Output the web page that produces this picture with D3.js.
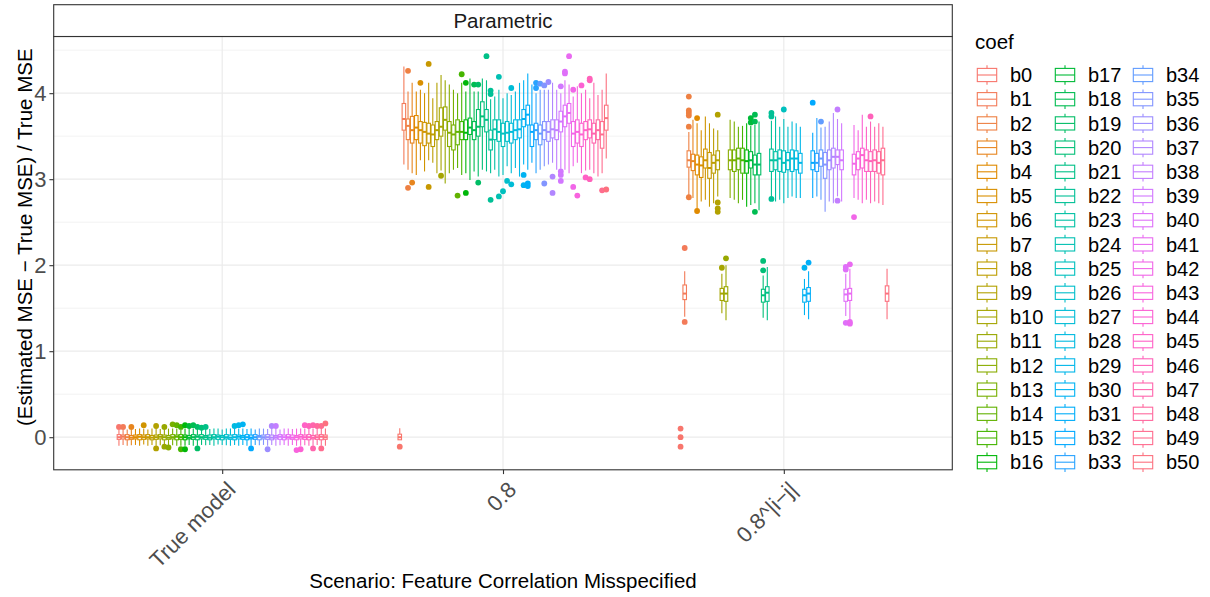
<!DOCTYPE html>
<html><head><meta charset="utf-8">
<script src="https://cdn.jsdelivr.net/npm/d3@7"></script>
<style>body{margin:0;background:#fff} svg{display:block;font-family:"Liberation Sans",Arial,Helvetica,sans-serif}</style>
</head><body><svg id="c" width="1210" height="597"></svg>
<script>
// ---------------- DATA ----------------
const coefs = ["b0","b1","b2","b3","b4","b5","b6","b7","b8","b9","b10",
  "b11","b12","b13","b14","b15","b16","b17","b18","b19","b20",
  "b21","b22","b23","b24","b25","b26","b27","b28","b29","b30",
  "b31","b32","b33","b34","b35","b36","b37","b38","b39","b40",
  "b41","b42","b43","b44","b45","b46","b47","b48","b49","b50"];
const scenarios = ["True model","0.8","0.8^|i\u2212j|"];
const yTicks = [0,1,2,3,4];
const yMinorTicks = [0.5,1.5,2.5,3.5,4.5];

// Scenario "True model"
const tmLo  = [-0.10,-0.09,-0.10,-0.095,-0.09,-0.10,-0.085,-0.10,-0.09,-0.10,-0.095,
  -0.09,-0.10,-0.095,-0.10,-0.10,-0.10,-0.09,-0.10,-0.10,-0.09,
  -0.095,-0.09,-0.10,-0.085,-0.09,-0.095,-0.10,-0.09,-0.10,-0.09,
  -0.10,-0.10,-0.09,-0.095,-0.09,-0.10,-0.09,-0.10,-0.095,-0.09,
  -0.10,-0.09,-0.10,-0.10,-0.095,-0.10,-0.10,-0.09,-0.10,-0.10];
const tmQ1  = [-0.025,-0.02,-0.03,-0.025,-0.02,-0.03,-0.025,-0.02,-0.03,-0.025,-0.02,
  -0.03,-0.025,-0.02,-0.03,-0.025,-0.03,-0.02,-0.025,-0.03,-0.02,
  -0.025,-0.03,-0.02,-0.025,-0.03,-0.02,-0.025,-0.03,-0.02,-0.025,
  -0.03,-0.02,-0.025,-0.03,-0.02,-0.025,-0.03,-0.02,-0.025,-0.03,
  -0.02,-0.025,-0.03,-0.02,-0.025,-0.03,-0.02,-0.025,-0.03,-0.025];
const tmMed = [0.0,0.005,0.0,-0.005,0.0,0.005,0.0,0.0,-0.005,0.0,0.005,
  0.0,-0.005,0.0,0.005,0.0,0.0,-0.005,0.0,0.005,0.0,
  0.0,-0.005,0.0,0.005,0.0,0.0,-0.005,0.0,0.005,0.0,
  0.0,-0.005,0.0,0.005,0.0,0.0,-0.005,0.0,0.005,0.0,
  0.0,-0.005,0.0,0.005,0.0,0.0,-0.005,0.0,0.005,0.0];
const tmQ3  = [0.03,0.025,0.03,0.02,0.025,0.03,0.025,0.03,0.02,0.025,0.03,
  0.025,0.02,0.03,0.025,0.03,0.025,0.02,0.03,0.025,0.03,
  0.02,0.025,0.03,0.025,0.02,0.03,0.025,0.03,0.025,0.02,
  0.03,0.025,0.03,0.02,0.025,0.03,0.025,0.02,0.03,0.025,
  0.03,0.025,0.02,0.03,0.025,0.03,0.02,0.025,0.03,0.025];
const tmHi  = [0.10,0.10,0.09,0.10,0.095,0.10,0.10,0.09,0.10,0.10,0.095,
  0.10,0.10,0.10,0.10,0.09,0.10,0.10,0.10,0.10,0.09,
  0.10,0.095,0.10,0.10,0.09,0.10,0.10,0.10,0.10,0.10,
  0.095,0.10,0.09,0.10,0.10,0.095,0.10,0.10,0.09,0.10,
  0.10,0.095,0.10,0.10,0.10,0.10,0.10,0.10,0.10,0.10];
const tmOut = [["b0",0.12],["b1",0.12],["b3",0.12],["b6",0.14],["b9",0.13],["b9",-0.13],
  ["b11",0.12],["b11",-0.11],["b12",-0.12],["b13",0.15],["b14",0.14],["b15",0.12],["b15",-0.14],
  ["b16",0.14],["b16",-0.14],["b17",0.13],["b18",0.14],["b19",0.12],["b19",-0.13],["b20",0.11],
  ["b21",0.12],["b28",0.13],["b29",0.14],["b30",0.15],["b32",-0.13],["b36",-0.14],["b37",0.13],
  ["b38",0.13],["b43",-0.15],["b44",-0.14],["b45",0.14],["b46",0.13],["b47",0.14],["b47",-0.13],
  ["b48",0.13],["b49",0.13],["b49",-0.13],["b50",0.16]];

// Scenario "0.8"
const s2Lo  = [-0.03,3.17,3.11,3.07,3.05,3.22,3.09,3.22,3.19,3.07,3.10,
  2.95,3.07,3.11,3.13,3.05,3.07,2.99,3.09,3.03,3.11,
  3.09,3.07,3.11,3.03,3.05,3.15,3.07,3.13,3.03,3.17,
  3.11,3.19,3.07,3.11,3.15,3.17,3.19,3.11,3.12,3.11,
  3.07,3.15,3.19,3.07,3.10,3.11,3.07,3.03,3.07,3.24];
const s2Q1  = [-0.03,3.57,3.46,3.42,3.46,3.42,3.39,3.42,3.38,3.46,3.50,
  3.57,3.38,3.34,3.40,3.46,3.46,3.52,3.46,3.50,3.61,
  3.55,3.34,3.46,3.44,3.38,3.44,3.42,3.46,3.48,3.61,
  3.63,3.38,3.46,3.40,3.46,3.44,3.48,3.46,3.55,3.61,
  3.65,3.38,3.42,3.38,3.46,3.48,3.42,3.46,3.36,3.57];
const s2Med = [0.00,3.70,3.62,3.57,3.60,3.57,3.55,3.53,3.52,3.57,3.61,
  3.69,3.54,3.52,3.55,3.55,3.54,3.60,3.57,3.61,3.73,
  3.69,3.46,3.58,3.55,3.53,3.54,3.55,3.57,3.58,3.70,
  3.75,3.55,3.57,3.53,3.57,3.55,3.58,3.57,3.67,3.73,
  3.77,3.53,3.55,3.52,3.57,3.58,3.53,3.57,3.52,3.71];
const s2Q3  = [0.035,3.88,3.70,3.73,3.74,3.67,3.66,3.65,3.63,3.67,3.83,
  3.84,3.67,3.63,3.69,3.67,3.69,3.71,3.67,3.81,3.90,
  3.81,3.57,3.69,3.69,3.65,3.67,3.65,3.69,3.69,3.81,
  3.86,3.63,3.65,3.63,3.67,3.67,3.69,3.69,3.79,3.86,
  3.88,3.67,3.69,3.65,3.67,3.69,3.65,3.69,3.67,3.86];
const s2Hi  = [0.105,4.31,4.02,4.12,4.02,4.04,4.00,4.12,3.94,4.12,4.21,
  4.15,4.10,4.04,4.00,4.12,4.02,4.17,4.02,4.02,4.17,
  4.15,3.93,3.96,4.04,3.94,4.00,3.98,4.02,4.12,4.15,
  4.23,4.10,4.00,4.04,4.04,4.04,4.12,4.04,4.00,4.15,
  4.10,3.96,4.08,4.00,4.04,3.94,4.12,3.98,4.04,4.23];
const s2Out = [["b0",-0.11],["b2",4.26],["b2",2.90],["b3",2.96],["b5",4.12],["b7",4.34],["b7",2.91],
  ["b10",3.04],["b14",2.81],["b15",4.22],["b16",4.12],["b16",2.84],["b18",4.10],["b19",4.10],["b19",2.96],
  ["b21",4.43],["b22",4.03],["b22",3.99],["b22",2.76],["b24",4.19],["b24",2.80],["b25",2.86],["b26",2.98],
  ["b27",4.06],["b27",2.94],["b30",3.05],["b30",2.93],["b31",2.92],["b31",2.95],["b33",4.12],["b33",4.06],
  ["b34",4.11],["b35",4.09],["b35",2.95],["b36",4.13],["b37",3.03],["b37",2.84],["b39",4.08],["b39",3.09],
  ["b39",3.05],["b39",2.98],["b40",4.25],["b40",4.23],["b41",4.43],["b42",4.04],["b42",2.91],["b43",2.81],
  ["b44",4.09],["b45",3.02],["b46",4.17],["b46",4.15],["b46",3.00],["b49",2.87],["b50",2.88]];

// Scenario "0.8^|i-j|"
const s3Lo  = [0,1.40,2.80,2.78,2.66,2.74,2.76,2.68,2.72,2.80,1.44,
  1.36,2.78,2.76,2.72,2.76,2.68,2.70,2.72,2.64,1.39,
  1.36,2.80,2.74,2.76,2.72,2.78,2.80,2.78,2.78,1.42,
  1.37,2.78,2.80,2.76,2.62,2.74,2.72,2.80,2.74,1.41,
  1.36,2.78,2.76,2.72,2.76,2.72,2.74,2.72,2.70,1.37];
const s3Q1  = [0,1.60,3.14,3.10,3.05,3.02,3.13,3.01,3.07,3.11,1.59,
  1.58,3.11,3.09,3.11,3.07,3.07,3.13,3.05,3.05,1.57,
  1.58,3.09,3.11,3.09,3.08,3.11,3.09,3.11,3.07,1.57,
  1.58,3.11,3.09,3.15,3.01,3.11,3.13,3.17,3.11,1.58,
  1.59,3.05,3.11,3.13,3.09,3.09,3.09,3.07,3.05,1.58];
const s3Med = [0,1.67,3.22,3.21,3.17,3.16,3.22,3.13,3.19,3.22,1.67,
  1.67,3.22,3.22,3.24,3.22,3.21,3.22,3.17,3.17,1.65,
  1.68,3.22,3.22,3.24,3.19,3.22,3.24,3.24,3.19,1.65,
  1.67,3.19,3.19,3.24,3.17,3.22,3.26,3.26,3.22,1.66,
  1.67,3.18,3.24,3.28,3.22,3.21,3.22,3.19,3.22,1.67];
const s3Q3  = [0,1.77,3.33,3.29,3.28,3.26,3.35,3.31,3.28,3.33,1.73,
  1.75,3.34,3.34,3.36,3.36,3.34,3.32,3.28,3.30,1.72,
  1.75,3.35,3.32,3.34,3.33,3.31,3.34,3.33,3.30,1.72,
  1.74,3.33,3.30,3.34,3.31,3.34,3.36,3.34,3.34,1.72,
  1.73,3.29,3.32,3.36,3.34,3.32,3.34,3.32,3.36,1.76];
const s3Hi  = [0,1.93,3.55,3.69,3.65,3.57,3.73,3.65,3.59,3.57,1.90,
  2.00,3.69,3.67,3.61,3.62,3.65,3.62,3.63,3.67,1.88,
  1.98,3.68,3.73,3.61,3.70,3.61,3.67,3.65,3.61,1.84,
  1.93,3.54,3.71,3.60,3.61,3.67,3.77,3.70,3.65,1.90,
  1.96,3.63,3.57,3.75,3.61,3.67,3.61,3.65,3.61,1.96];
const s3Out = [["b0",0.10],["b0",0.0],["b0",-0.11],["b1",2.20],["b1",1.34],
  ["b2",3.96],["b2",3.80],["b2",3.77],["b2",3.74],["b2",3.61],["b2",2.79],["b4",3.71],["b4",2.63],
  ["b9",3.75],["b9",2.73],["b9",2.66],["b9",2.62],["b10",1.97],["b11",2.08],["b17",3.71],["b17",3.66],
  ["b18",3.75],["b18",3.67],["b18",2.62],["b20",2.05],["b20",1.94],["b22",3.77],["b22",3.73],["b22",2.77],
  ["b25",3.81],["b30",1.97],["b31",2.03],["b32",3.89],["b34",3.67],["b38",3.81],["b38",2.75],
  ["b40",1.98],["b40",1.95],["b40",1.33],["b41",2.01],["b41",1.32],["b41",1.34],["b42",2.56],["b46",3.73]];

// ---------------- BUILD ----------------
const stats = {};
stats[scenarios[0]] = {lo:tmLo,q1:tmQ1,med:tmMed,q3:tmQ3,hi:tmHi,out:tmOut};
stats[scenarios[1]] = {lo:s2Lo,q1:s2Q1,med:s2Med,q3:s2Q3,hi:s2Hi,out:s2Out};
stats[scenarios[2]] = {lo:s3Lo,q1:s3Q1,med:s3Med,q3:s3Q3,hi:s3Hi,out:s3Out};

// R's hcl() (polar LUV) -> sRGB, as used by ggplot2's hue palette
function hclR(h, c, l) {
  const WHITE_Y = 100, WHITE_u = 0.1978398, WHITE_v = 0.4683363;
  const hr = h * Math.PI / 180;
  const L = l, U = c * Math.cos(hr), V = c * Math.sin(hr);
  const Y = WHITE_Y * (L > 7.999592 ? Math.pow((L + 16) / 116, 3) : L / 903.3);
  const u = U / (13 * L) + WHITE_u, v = V / (13 * L) + WHITE_v;
  const X = 9.0 * Y * u / (4 * v);
  const Z = -X / 3 - 5 * Y + 3 * Y / v;
  const g = t => { t = t / WHITE_Y; const r = t > 0.00304 ? 1.055 * Math.pow(t, 1 / 2.4) - 0.055 : 12.92 * t; return Math.round(255 * Math.max(0, Math.min(1, r))); };
  return d3.rgb(g(3.240479 * X - 1.537150 * Y - 0.498535 * Z),
                g(-0.969256 * X + 1.875992 * Y + 0.041556 * Z),
                g(0.055648 * X - 0.204043 * Y + 1.057311 * Z)).formatHex();
}
const n = coefs.length;
const color = d3.scaleOrdinal().domain(coefs).range(coefs.map((c, i) => hclR(15 + i * 360 / n, 100, 65)));

const W = 1210, H = 597;
const P = {l: 53.7, r: 952.3, t: 36.5, b: 469.8};
const stripTop = 4.7;
const FONT = 20.5, TICKFONT = 22;
const svg = d3.select("#c");
svg.append("rect").attr("width", W).attr("height", H).attr("fill", "#fff");

// y domain with ggplot-like 5% expansion
let allV = [];
scenarios.forEach(s => { const d = stats[s]; allV = allV.concat(d.lo, d.hi, d.out.map(o => o[1])); });
const vmin = d3.min(allV), vmax = d3.max(allV), ex = (vmax - vmin) * 0.05;
const y = d3.scaleLinear().domain([vmin - ex, vmax + ex]).range([P.b, P.t]);
const x = d3.scalePoint().domain(scenarios).range([P.l, P.r]).padding(0.6);
const step = x.step();
const dodge = d3.scaleBand().domain(coefs).range([-0.375 * step, 0.375 * step]);
const bw = dodge.bandwidth();

// grid
const grid = svg.append("g");
grid.selectAll(".mn").data(yMinorTicks).join("line")
  .attr("x1", P.l).attr("x2", P.r).attr("y1", d => y(d)).attr("y2", d => y(d))
  .attr("stroke", "#EBEBEB").attr("stroke-width", 0.6);
grid.selectAll(".mj").data(yTicks).join("line")
  .attr("x1", P.l).attr("x2", P.r).attr("y1", d => y(d)).attr("y2", d => y(d))
  .attr("stroke", "#EBEBEB").attr("stroke-width", 1.2);
grid.selectAll(".vx").data(scenarios).join("line")
  .attr("x1", d => x(d)).attr("x2", d => x(d)).attr("y1", P.t).attr("y2", P.b)
  .attr("stroke", "#EBEBEB").attr("stroke-width", 1.2);

// boxes
const plot = svg.append("g");
scenarios.forEach(s => {
  const d = stats[s];
  coefs.forEach((c, i) => {
    const cx = x(s) + dodge(c) + bw / 2;
    const col = color(c);
    const g = plot.append("g");
    d.out.filter(o => o[0] === c).forEach(o => {
      g.append("circle").attr("cx", cx).attr("cy", y(o[1])).attr("r", 2.9).attr("fill", col);
    });
    g.append("line").attr("x1", cx).attr("x2", cx).attr("y1", y(d.hi[i])).attr("y2", y(d.q3[i]))
      .attr("stroke", col).attr("stroke-width", 1.1);
    g.append("line").attr("x1", cx).attr("x2", cx).attr("y1", y(d.q1[i])).attr("y2", y(d.lo[i]))
      .attr("stroke", col).attr("stroke-width", 1.1);
    g.append("rect").attr("x", cx - bw / 2 + 0.3).attr("width", bw - 0.6)
      .attr("y", y(d.q3[i])).attr("height", Math.max(0, y(d.q1[i]) - y(d.q3[i])))
      .attr("fill", "#fff").attr("stroke", col).attr("stroke-width", 1.1);
    g.append("line").attr("x1", cx - bw / 2 + 0.3).attr("x2", cx + bw / 2 - 0.3)
      .attr("y1", y(d.med[i])).attr("y2", y(d.med[i]))
      .attr("stroke", col).attr("stroke-width", 2.0);
  });
});

// panel border
svg.append("rect").attr("x", P.l).attr("y", P.t).attr("width", P.r - P.l).attr("height", P.b - P.t)
  .attr("fill", "none").attr("stroke", "#333333").attr("stroke-width", 1.1);
// strip
svg.append("rect").attr("x", P.l).attr("y", stripTop).attr("width", P.r - P.l).attr("height", P.t - stripTop)
  .attr("fill", "#fff").attr("stroke", "#333333").attr("stroke-width", 1.1);
svg.append("text").attr("x", (P.l + P.r) / 2).attr("y", (stripTop + P.t) / 2 + 0.35 * FONT)
  .attr("text-anchor", "middle").attr("font-size", FONT).attr("fill", "#1A1A1A").text("Parametric");

// y axis
const yAx = svg.append("g").attr("transform", `translate(${P.l},0)`)
  .call(d3.axisLeft(y).tickValues(yTicks).tickSize(4.3).tickPadding(3).tickFormat(d3.format("d")));
yAx.select(".domain").remove();
yAx.selectAll("line").attr("stroke", "#333333").attr("stroke-width", 1.1);
yAx.selectAll("text").attr("font-size", TICKFONT).attr("fill", "#4D4D4D").attr("font-family", null);

// x axis
const xAx = svg.append("g").attr("transform", `translate(0,${P.b})`)
  .call(d3.axisBottom(x).tickSize(4.3));
xAx.select(".domain").remove();
xAx.selectAll("line").attr("stroke", "#333333").attr("stroke-width", 1.1);
xAx.selectAll("text").attr("font-size", TICKFONT).attr("fill", "#4D4D4D").attr("font-family", null)
  .attr("text-anchor", "end").attr("x", 0).attr("y", 0).attr("dy", "0.72em")
  .attr("transform", "translate(3,10) rotate(-45)");

// axis titles
svg.append("text").attr("x", (P.l + P.r) / 2).attr("y", 588).attr("text-anchor", "middle")
  .attr("font-size", FONT).attr("fill", "#000").text("Scenario: Feature Correlation Misspecified");
svg.append("text").attr("transform", `translate(32,${(stripTop + P.b) / 2}) rotate(-90)`)
  .attr("text-anchor", "middle").attr("font-size", FONT).attr("fill", "#000")
  .text("(Estimated MSE \u2212 True MSE) / True MSE");

// legend
const leg = svg.append("g");
leg.append("text").attr("x", 975).attr("y", 49).attr("font-size", FONT).attr("fill", "#000").text("coef");
const colX = [977.3, 1055.3, 1133.3], rowY0 = 75, rowH = 24.2, perCol = 17;
coefs.forEach((c, i) => {
  const kx = colX[Math.floor(i / perCol)], ky = rowY0 + (i % perCol) * rowH;
  const col = color(c);
  const k = leg.append("g");
  k.append("line").attr("x1", kx + 9.7).attr("x2", kx + 9.7).attr("y1", ky - 9.7).attr("y2", ky + 9.7)
    .attr("stroke", col).attr("stroke-width", 1.1);
  k.append("rect").attr("x", kx).attr("y", ky - 6.6).attr("width", 19.4).attr("height", 13.2)
    .attr("fill", "#fff").attr("stroke", col).attr("stroke-width", 1.1);
  k.append("line").attr("x1", kx).attr("x2", kx + 19.4).attr("y1", ky).attr("y2", ky)
    .attr("stroke", col).attr("stroke-width", 1.1);
  leg.append("text").attr("x", kx + 32.7).attr("y", ky + 0.36 * 20).attr("font-size", 20)
    .attr("fill", "#000").text(c);
});
</script></body></html>
